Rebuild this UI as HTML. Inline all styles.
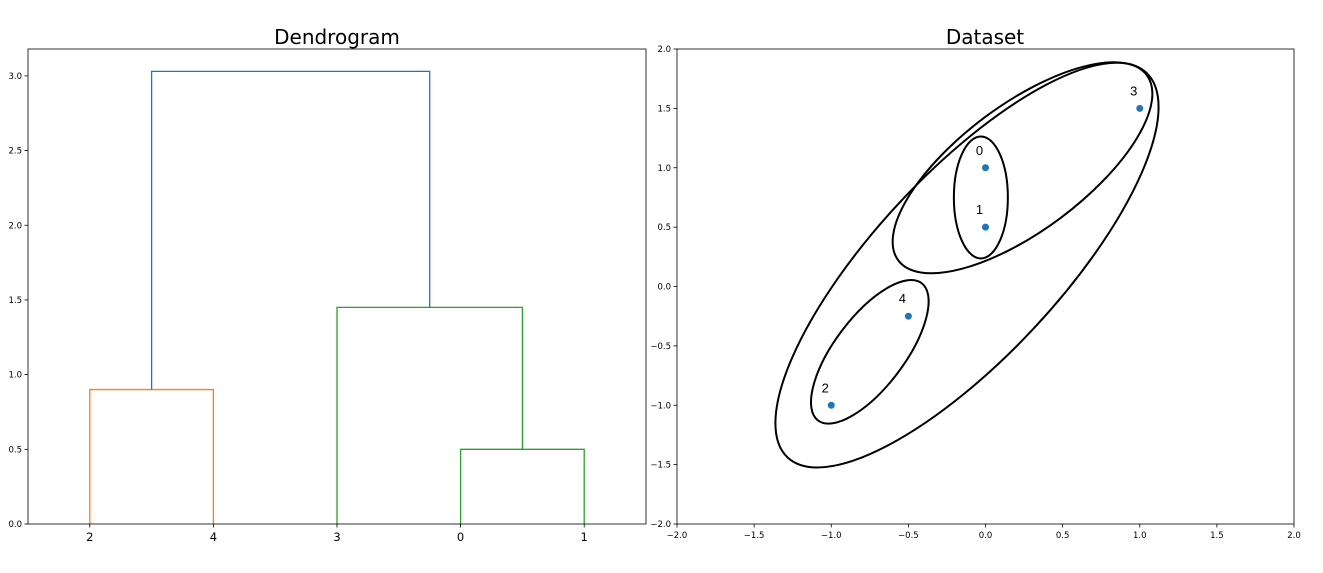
<!DOCTYPE html>
<html><head><meta charset="utf-8"><style>
body{margin:0;background:#fff;}
svg{display:block;font-family:"DejaVu Sans","Liberation Sans",sans-serif;}
</style></head><body>
<svg id="fig" width="1323" height="573" viewBox="0 0 1323 573" xmlns="http://www.w3.org/2000/svg">
<text x="337" y="44" font-size="20" text-anchor="middle">Dendrogram</text>
<text x="985" y="44" font-size="20" text-anchor="middle">Dataset</text>
<g id="left"></g>
<g id="right"></g>
</svg>
<script>
// Dendrogram data
const leafLabels = ['2','4','3','0','1'];
const linkX = [[5,5,15,15],[35,35,45,45],[25,25,40,40],[10,10,32.5,32.5]];
const linkY = [[0,0.9,0.9,0],[0,0.5,0.5,0],[0,1.45,1.45,0.5],[0.9,3.03,3.03,1.45]];
const linkColors = ['#ff7f0e','#2ca02c','#2ca02c','#1f77b4'];
const dendroYTicks = [0,0.5,1.0,1.5,2.0,2.5,3.0];
// Dataset data
const pointLabels = ['0','1','2','3','4'];
const pointX = [0,0,-1,1,-0.5];
const pointY = [1,0.5,-1,1.5,-0.25];
const dataTicks = [-2,-1.5,-1,-0.5,0,0.5,1,1.5,2];
// cluster ellipses: center (data), semi-axes (px), angle (deg)
const ellCx = [-0.03,-0.75,0.24,-0.12];
const ellCy = [0.75,-0.55,1.00,0.18];
const ellA = [61,86,155,263];
const ellB = [27,35,63,92];
const ellAng = [-90,-53,-36.7,-47];

const NS='http://www.w3.org/2000/svg';
function mk(parent,tag,attrs,txt){const e=document.createElementNS(NS,tag);for(const k in attrs)e.setAttribute(k,attrs[k]);if(txt!==undefined)e.textContent=txt;parent.appendChild(e);return e;}
function fmt(v){let s=v.toFixed(1);return s.replace('-','\u2212');}

// Left axes
const L=document.getElementById('left');
const lx0=28,lx1=646,ly0=49,ly1=524;
const dx=v=>lx0+(v/50)*(lx1-lx0);
const dy=v=>ly1-(v/3.18)*(ly1-ly0);
for(let i=0;i<linkX.length;i++){
  const pts=linkX[i].map((x,j)=>dx(x)+','+dy(linkY[i][j])).join(' ');
  const p=mk(L,'polyline',{points:pts,fill:'none',stroke:linkColors[i],'stroke-width':1.3});
  
  
}
const lf=mk(L,'rect',{x:lx0,y:ly0,width:lx1-lx0,height:ly1-ly0,fill:'none',stroke:'#000','stroke-width':0.8});


dendroYTicks.forEach(v=>{
  mk(L,'line',{x1:lx0-3.5,x2:lx0,y1:dy(v),y2:dy(v),stroke:'#000','stroke-width':0.8});
  const t=mk(L,'text',{x:lx0-6,y:dy(v)+3,'font-size':8.5,'text-anchor':'end'},fmt(v));
  
  
});
leafLabels.forEach((lab,i)=>{
  const x=dx(5+10*i);
  mk(L,'line',{x1:x,x2:x,y1:ly1,y2:ly1+3.5,stroke:'#000','stroke-width':0.8});
  const t=mk(L,'text',{x:x,y:ly1+17,'font-size':11.5,'text-anchor':'middle'},lab);
  
  
});

// Right axes
const R=document.getElementById('right');
const rx0=677,rx1=1294,ry0=49,ry1=524;
const px=v=>rx0+(v+2)/4*(rx1-rx0);
const py=v=>ry1-(v+2)/4*(ry1-ry0);
const rf=mk(R,'rect',{x:rx0,y:ry0,width:rx1-rx0,height:ry1-ry0,fill:'none',stroke:'#000','stroke-width':0.8});


dataTicks.forEach(v=>{
  mk(R,'line',{x1:px(v),x2:px(v),y1:ry1,y2:ry1+3.5,stroke:'#000','stroke-width':0.8});
  const t=mk(R,'text',{x:px(v),y:ry1+14,'font-size':8.5,'text-anchor':'middle'},fmt(v));
  
  
  mk(R,'line',{x1:rx0-3.5,x2:rx0,y1:py(v),y2:py(v),stroke:'#000','stroke-width':0.8});
  const u=mk(R,'text',{x:rx0-6,y:py(v)+3,'font-size':8.5,'text-anchor':'end'},fmt(v));
  
  
});
for(let i=0;i<ellCx.length;i++){
  const cx=px(ellCx[i]),cy=py(ellCy[i]);
  const e=mk(R,'ellipse',{cx:cx,cy:cy,rx:ellA[i],ry:ellB[i],fill:'none',stroke:'#000','stroke-width':2,transform:`rotate(${ellAng[i]} ${cx} ${cy})`});
  
  
}
for(let i=0;i<pointX.length;i++){
  const c=mk(R,'circle',{cx:px(pointX[i]),cy:py(pointY[i]),r:3.5,fill:'#1f77b4'});
  
  
  const t=mk(R,'text',{x:px(pointX[i])-6,y:py(pointY[i])-13,'font-size':13,'text-anchor':'middle','font-family':'Liberation Sans, sans-serif'},pointLabels[i]);
  
  
}
</script>
</body></html>
